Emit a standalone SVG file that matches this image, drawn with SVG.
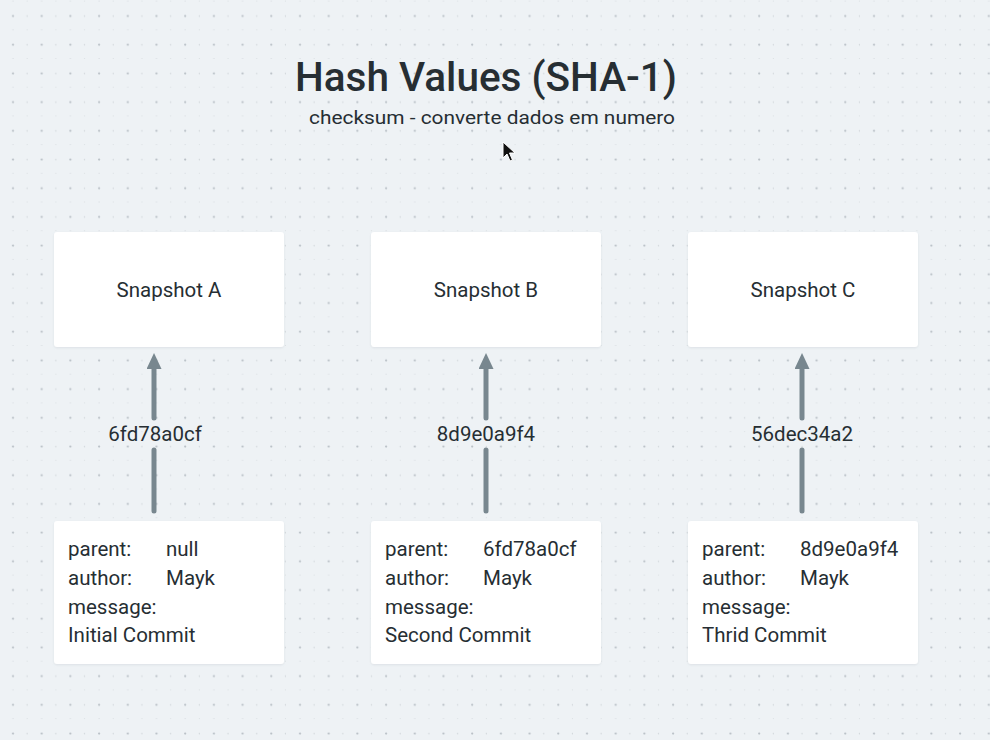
<svg xmlns="http://www.w3.org/2000/svg" width="990" height="740" viewBox="0 0 990 740">
<defs>
<pattern id="dots" x="-1" y="1.6" width="28.7" height="28.7" patternUnits="userSpaceOnUse">
<circle cx="14" cy="14.4" r="1.1" fill="#b9c0c6"/>
<circle cx="28.35" cy="14.4" r="0.9" fill="#d3d8dc"/>
<circle cx="14" cy="28.75" r="0.9" fill="#d3d8dc"/>
<circle cx="28.35" cy="28.75" r="0.9" fill="#d3d8dc"/>
</pattern>
<marker id="ah" markerWidth="4" markerHeight="3" refX="0.4" refY="1.5" orient="auto" markerUnits="strokeWidth">
<path d="M0,0 L3.2,1.5 L0,3 z" fill="#78878f"/>
</marker>
<filter id="sh" x="-5%" y="-5%" width="110%" height="115%">
<feDropShadow dx="0" dy="1" stdDeviation="1" flood-color="#8a96a0" flood-opacity="0.18"/>
</filter>
</defs>
<style>
.box{fill:#ffffff;filter:url(#sh)}
.t{font-family:Roboto,"Open Sans",sans-serif;fill:#262e33;font-size:20.5px;font-weight:400}
.c{text-anchor:middle}
.ln{stroke:#78878f;stroke-width:5;stroke-linecap:round;fill:none}
</style>
<rect width="990" height="740" fill="#eef2f5"/>
<rect width="990" height="740" fill="url(#dots)"/>

<g id="title">
<text class="t c" x="486" y="91" textLength="382" lengthAdjust="spacingAndGlyphs" style="font-size:40px;font-weight:500">Hash Values (SHA-1)</text>
<text class="t c" x="492" y="124" textLength="366" lengthAdjust="spacingAndGlyphs" style="font-size:19px">checksum - converte dados em numero</text>
</g>

<g id="connectors">
<line class="ln" x1="154" y1="418" x2="154" y2="367" marker-end="url(#ah)"/>
<line class="ln" x1="154" y1="511" x2="154" y2="450"/>
<text class="t c" x="155" y="441">6fd78a0cf</text>
<line class="ln" x1="486" y1="418" x2="486" y2="367" marker-end="url(#ah)"/>
<line class="ln" x1="486" y1="511" x2="486" y2="450"/>
<text class="t c" x="486" y="441">8d9e0a9f4</text>
<line class="ln" x1="802" y1="418" x2="802" y2="367" marker-end="url(#ah)"/>
<line class="ln" x1="802" y1="511" x2="802" y2="450"/>
<text class="t c" x="802" y="441">56dec34a2</text>
</g>

<g id="snapshotA"><rect class="box" x="54" y="232" width="230" height="115" rx="3"/><text class="t c" x="169" y="297">Snapshot A</text></g>
<g id="snapshotB"><rect class="box" x="371" y="232" width="230" height="115" rx="3"/><text class="t c" x="486" y="297">Snapshot B</text></g>
<g id="snapshotC"><rect class="box" x="688" y="232" width="230" height="115" rx="3"/><text class="t c" x="803" y="297">Snapshot C</text></g>

<g id="commitA"><rect class="box" x="54" y="521" width="230" height="143" rx="3"/>
<text class="t" x="68" y="556">parent:</text><text class="t" x="166" y="556">null</text>
<text class="t" x="68" y="585">author:</text><text class="t" x="166" y="585">Mayk</text>
<text class="t" x="68" y="614">message:</text>
<text class="t" x="68" y="642">Initial Commit</text></g>
<g id="commitB"><rect class="box" x="371" y="521" width="230" height="143" rx="3"/>
<text class="t" x="385" y="556">parent:</text><text class="t" x="483" y="556">6fd78a0cf</text>
<text class="t" x="385" y="585">author:</text><text class="t" x="483" y="585">Mayk</text>
<text class="t" x="385" y="614">message:</text>
<text class="t" x="385" y="642">Second Commit</text></g>
<g id="commitC"><rect class="box" x="688" y="521" width="230" height="143" rx="3"/>
<text class="t" x="702" y="556">parent:</text><text class="t" x="800" y="556">8d9e0a9f4</text>
<text class="t" x="702" y="585">author:</text><text class="t" x="800" y="585">Mayk</text>
<text class="t" x="702" y="614">message:</text>
<text class="t" x="702" y="642">Thrid Commit</text></g>

<path d="M503,142 L503,158 L507,154 L510,161 L512.5,160 L509.5,153 L515,153 Z" fill="#111" stroke="#fff" stroke-width="1"/>
</svg>
